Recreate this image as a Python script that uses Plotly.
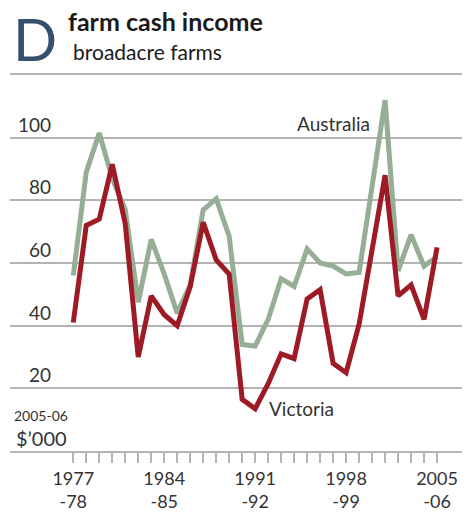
import plotly.graph_objects as go

# farm cash income, broadacre farms, 2005-06 $'000
years = list(range(1977, 2006))
australia = [56, 89, 101.5, 87, 77, 47.5, 67.5, 56.5, 44, 53, 77, 80.5, 68.5, 34, 33.5,
             42, 55, 52.5, 64.5, 60, 59, 56.5, 57, 84, 112, 57.5, 69, 59, 62]
victoria = [41, 72, 74, 91.5, 72.5, 30, 49.5, 43.5, 40, 52.5, 73, 61, 56.5, 16.5, 13.5,
            21.5, 31, 29.5, 48.5, 51.5, 28, 25, 40.5, 65, 88, 49.5, 53, 42, 65]
y_ticks = [20, 40, 60, 80, 100]
x_label_years = [1977, 1984, 1991, 1998, 2005]

W, H = 467, 512
L, R, T, B = 10, 5, 75, 61
GREEN = "#95ae95"
RED = "#9e1a24"
GRID = "#b3b3b3"
FONT = "Lato"
TXT = "#333333"


def px_x(x):
    # pixel -> paper x
    return (x - L) / (W - L - R)


def px_y(y):
    # pixel -> paper y
    return (H - B - y) / (H - T - B)


ticktext = ["%d<br>-%02d" % (y, (y + 1) % 100) if y in x_label_years else "" for y in years]

fig = go.Figure()
fig.add_trace(go.Scatter(x=years, y=australia, mode="lines", name="Australia",
                         line=dict(color=GREEN, width=5)))
fig.add_trace(go.Scatter(x=years, y=victoria, mode="lines", name="Victoria",
                         line=dict(color=RED, width=5)))

annotations = []
for v in y_ticks:
    annotations.append(dict(x=px_x(53), xref="paper", y=v, yref="y", text=str(v),
                            xanchor="right", yanchor="bottom", showarrow=False,
                            font=dict(family=FONT, size=19, color=TXT)))

annotations += [
    dict(x=1997.05, y=104.5, text="Australia", showarrow=False,
         xanchor="center", yanchor="middle", font=dict(family=FONT, size=19, color=TXT)),
    dict(x=1994.6, y=13.6, text="Victoria", showarrow=False,
         xanchor="center", yanchor="middle", font=dict(family=FONT, size=19, color=TXT)),
    dict(x=px_x(41), xref="paper", y=px_y(415), yref="paper", text="2005-06",
         xanchor="center", yanchor="middle", showarrow=False,
         font=dict(family=FONT, size=14, color=TXT)),
    dict(x=px_x(41), xref="paper", y=px_y(438), yref="paper", text="$\u2019000",
         xanchor="center", yanchor="middle", showarrow=False,
         font=dict(family=FONT, size=20, color=TXT)),
    dict(x=px_x(35), xref="paper", y=px_y(38), yref="paper", text="D",
         xanchor="center", yanchor="middle", showarrow=False,
         font=dict(family=FONT, size=58, color="#34506b")),
    dict(x=px_x(66), xref="paper", y=px_y(21), yref="paper", text="<b>farm cash income</b>",
         xanchor="left", yanchor="middle", showarrow=False,
         font=dict(family=FONT, size=25, color="#1a1a1a")),
    dict(x=px_x(71), xref="paper", y=px_y(51), yref="paper", text="broadacre farms",
         xanchor="left", yanchor="middle", showarrow=False,
         font=dict(family=FONT, size=21, color="#1a1a1a")),
]

fig.update_layout(
    width=W, height=H,
    margin=dict(l=L, r=R, t=T, b=B, autoexpand=False),
    paper_bgcolor="white", plot_bgcolor="white",
    showlegend=False,
    annotations=annotations,
    xaxis=dict(range=[1972.13, 2006.92], tickvals=years, ticktext=ticktext,
               ticks="outside", ticklen=10, tickwidth=1.5, tickcolor=GRID,
               showgrid=False, zeroline=False, automargin=False,
               showline=True, mirror=True, linecolor=GRID, linewidth=2,
               tickfont=dict(family=FONT, size=18, color=TXT)),
    yaxis=dict(range=[0, 120], tickvals=[0, 20, 40, 60, 80, 100, 120], showticklabels=False,
               showgrid=True, gridcolor=GRID, gridwidth=2, zeroline=False, showline=False,
               automargin=False),
)

# drop the browser's default 8px body margin so the figure fills the window
fig.write_html("out.html", config={"displayModeBar": False},
               post_script="document.body.style.margin = '0';")
